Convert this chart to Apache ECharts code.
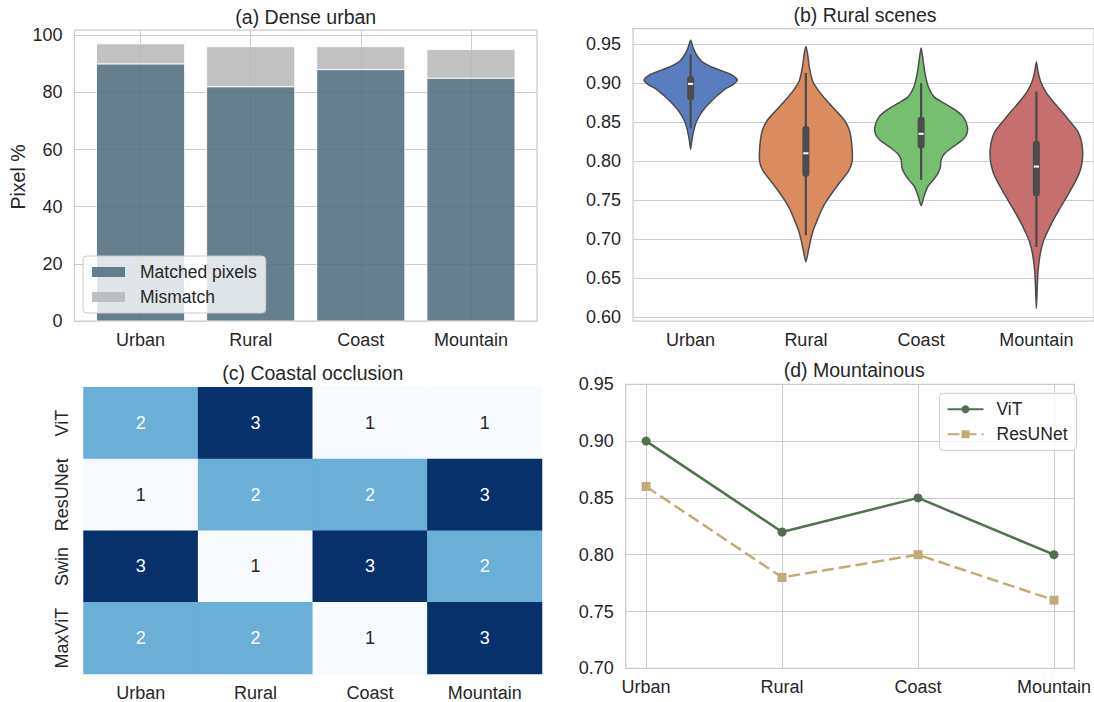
<!DOCTYPE html>
<html>
<head>
<meta charset="utf-8">
<script src="https://cdn.jsdelivr.net/npm/echarts@6/dist/echarts.min.js"></script>
<style>
  html, body { margin: 0; padding: 0; background: #ffffff; }
  #chart { width: 1094px; height: 702px; }
</style>
</head>
<body>
<div id="chart"></div>
<script>
// ---------- data ----------
const scenes = ['Urban', 'Rural', 'Coast', 'Mountain'];

// (a) pixel agreement, percent
const matchedPct = [90, 82, 88, 85];
const mismatchPct = [7, 14, 8, 10];
const pixelTicks = [0, 20, 40, 60, 80, 100];

// (b) violin outlines: [score, half-width in category units]
const violinUrban = [
  [0.955, 0], [0.945, 0.023], [0.936, 0.052], [0.928, 0.095], [0.924, 0.138],
  [0.919, 0.210], [0.915, 0.282], [0.911, 0.353], [0.904, 0.405], [0.898, 0.368],
  [0.892, 0.296], [0.885, 0.239], [0.877, 0.181], [0.868, 0.124], [0.859, 0.080],
  [0.851, 0.052], [0.842, 0.032], [0.834, 0.020], [0.825, 0.009], [0.815, 0]
];
const violinRural = [
  [0.947, 0], [0.938, 0.014], [0.921, 0.029], [0.903, 0.057], [0.891, 0.106],
  [0.878, 0.178], [0.865, 0.259], [0.852, 0.336], [0.839, 0.379], [0.827, 0.394],
  [0.814, 0.402], [0.800, 0.402], [0.788, 0.374], [0.775, 0.307], [0.762, 0.241],
  [0.750, 0.184], [0.737, 0.135], [0.724, 0.098], [0.711, 0.063], [0.698, 0.040],
  [0.686, 0.023], [0.671, 0]
];
const violinCoast = [
  [0.945, 0], [0.929, 0.017], [0.912, 0.034], [0.895, 0.063], [0.882, 0.115],
  [0.874, 0.201], [0.865, 0.302], [0.856, 0.368], [0.844, 0.402], [0.835, 0.397],
  [0.827, 0.359], [0.818, 0.273], [0.809, 0.201], [0.801, 0.172], [0.792, 0.167],
  [0.784, 0.144], [0.775, 0.101], [0.767, 0.057], [0.754, 0.023], [0.743, 0]
];
const violinMountain = [
  [0.927, 0], [0.915, 0.014], [0.902, 0.037], [0.889, 0.080], [0.876, 0.147],
  [0.863, 0.224], [0.850, 0.296], [0.838, 0.359], [0.825, 0.391], [0.812, 0.402],
  [0.799, 0.397], [0.786, 0.376], [0.774, 0.339], [0.761, 0.290], [0.748, 0.239],
  [0.735, 0.187], [0.722, 0.138], [0.709, 0.095], [0.697, 0.060], [0.680, 0.032],
  [0.658, 0.014], [0.637, 0.007], [0.611, 0]
];
// inner box summary per scene
const whiskerLow = [0.842, 0.705, 0.776, 0.690];
const quartile1 = [0.878, 0.780, 0.816, 0.755];
const medians = [0.899, 0.810, 0.835, 0.793];
const quartile3 = [0.909, 0.845, 0.857, 0.826];
const whiskerHigh = [0.937, 0.913, 0.900, 0.889];
const scoreTicks = [0.60, 0.65, 0.70, 0.75, 0.80, 0.85, 0.90, 0.95];

// (c) ranks per model and scene
const models = ['ViT', 'ResUNet', 'Swin', 'MaxViT'];
const rankViT = [2, 3, 1, 1];
const rankResUNet = [1, 2, 2, 3];
const rankSwin = [3, 1, 3, 2];
const rankMaxViT = [2, 2, 1, 3];

// (d) scores per scene
const vitScores = [0.90, 0.82, 0.85, 0.80];
const resunetScores = [0.86, 0.78, 0.80, 0.76];
const lineTicks = [0.70, 0.75, 0.80, 0.85, 0.90, 0.95];

// ---------- layout & style ----------
const FONT = '"Liberation Sans", Arial, Helvetica, sans-serif';
const TEXT = '#262626';
const GRIDLINE = '#cccccc';
const SPINE = '#cccccc';
const TICK_FS = 18;
const TITLE_FS = 19.5;

const A = { left: 74.5, top: 30, width: 462.5, height: 291 };
const B = { left: 633, top: 28.5, width: 464, height: 292.5 };
const C = { left: 83.5, top: 387.3, width: 458.5, height: 287 };
const D = { left: 625.7, top: 384.3, width: 457, height: 284 };

const catIdx = [0, 1, 2, 3];
const labelStyle = { color: TEXT, fontSize: TICK_FS, fontFamily: FONT };
const splitStyle = { color: GRIDLINE, width: 1 };

function frame(g) {
  return Object.assign({ show: true, borderColor: SPINE, borderWidth: 1.25,
    backgroundColor: 'transparent', containLabel: false }, g);
}

function catValueAxis(gridIndex, min, max, showGrid) {
  return {
    type: 'value', gridIndex, min, max,
    axisLine: { show: false },
    axisTick: { show: false, customValues: catIdx },
    axisLabel: Object.assign({ customValues: catIdx, margin: 10,
      formatter: v => scenes[Math.round(v)] }, labelStyle),
    splitLine: { show: showGrid, lineStyle: splitStyle }
  };
}

function numAxis(gridIndex, min, max, ticks, fmt) {
  return {
    type: 'value', gridIndex, min, max,
    axisLine: { show: false },
    axisTick: { show: false, customValues: ticks },
    axisLabel: Object.assign({ customValues: ticks, margin: 12, formatter: fmt }, labelStyle),
    splitLine: { show: true, lineStyle: splitStyle }
  };
}

// stacked segment [scene index, from, to]
const matchedSegs = matchedPct.map((v, i) => [i, 0, v]);
const mismatchSegs = mismatchPct.map((v, i) => [i, matchedPct[i], matchedPct[i] + v]);
const BAR_HALF = 0.4;

function segmentSeries(name, segs, color) {
  return {
    name, type: 'custom', xAxisIndex: 0, yAxisIndex: 0,
    data: segs, encode: { x: 0, y: [1, 2] },
    itemStyle: { color, opacity: 0.87 },
    renderItem(params, api) {
      const i = api.value(0);
      const p0 = api.coord([i - BAR_HALF, api.value(2)]);
      const p1 = api.coord([i + BAR_HALF, api.value(1)]);
      return { type: 'rect',
        shape: { x: p0[0], y: p0[1], width: p1[0] - p0[0], height: p1[1] - p0[1] },
        style: { fill: color, opacity: 0.87, stroke: '#ffffff', lineWidth: 1 } };
    }
  };
}

const violinProfiles = [violinUrban, violinRural, violinCoast, violinMountain];
const violinFill = ['#597dbf', '#da8b5f', '#76bf71', '#c76e6e'];
const ranks = [rankViT, rankResUNet, rankSwin, rankMaxViT];

const heatData = [];
ranks.forEach((row, r) => row.forEach((v, c) => {
  heatData.push({ value: [c, r, v], label: { color: v >= 2 ? '#ffffff' : TEXT } });
}));

function titleText(text, x, y) {
  return { type: 'text', x, y, silent: true,
    style: { text, fill: TEXT, font: TITLE_FS + 'px ' + FONT,
      textAlign: 'center', textVerticalAlign: 'middle', align: 'center', verticalAlign: 'middle' } };
}

const option = {
  backgroundColor: '#ffffff',
  animation: false,
  textStyle: { fontFamily: FONT, color: TEXT },
  grid: [frame(A), frame(B), Object.assign({}, C, { show: false }), frame(D)],
  xAxis: [
    catValueAxis(0, -0.6, 3.6, true),
    catValueAxis(1, -0.5, 3.5, false),
    { type: 'category', gridIndex: 2, data: scenes,
      axisLine: { show: false }, axisTick: { show: false },
      axisLabel: Object.assign({ margin: 10, interval: 0 }, labelStyle), splitLine: { show: false } },
    catValueAxis(3, -0.15, 3.15, true)
  ],
  yAxis: [
    numAxis(0, 0, 101.85, pixelTicks, v => String(v)),
    numAxis(1, 0.595, 0.97, scoreTicks, v => v.toFixed(2)),
    { type: 'category', gridIndex: 2, data: models, inverse: true,
      axisLine: { show: false }, axisTick: { show: false },
      axisLabel: Object.assign({ rotate: 90, margin: 13, interval: 0 }, labelStyle),
      splitLine: { show: false } },
    numAxis(3, 0.70, 0.95, lineTicks, v => v.toFixed(2))
  ],
  legend: [
    {
      data: ['Matched pixels', 'Mismatch'], orient: 'vertical',
      left: 83, top: 256, padding: [7, 9, 7, 9], itemGap: 7,
      itemWidth: 33, itemHeight: 10, icon: 'rect',
      backgroundColor: 'rgba(255,255,255,0.8)', borderColor: '#cccccc', borderWidth: 1, borderRadius: 4,
      textStyle: { color: TEXT, fontSize: 17.5, fontFamily: FONT, padding: [0, 0, 0, 10] },
      selectedMode: false
    },
    {
      data: ['ViT', 'ResUNet'], orient: 'vertical',
      left: 939.5, top: 393.3, padding: [7, 9, 7, 7], itemGap: 7,
      itemWidth: 36, itemHeight: 10,
      backgroundColor: 'rgba(255,255,255,0.8)', borderColor: '#cccccc', borderWidth: 1, borderRadius: 4,
      textStyle: { color: TEXT, fontSize: 17.5, fontFamily: FONT, padding: [0, 0, 0, 8] },
      selectedMode: false
    }
  ],
  visualMap: {
    type: 'continuous', show: false, min: 1, max: 3, seriesIndex: 3,
    inRange: { color: ['#f7fbff', '#6baed6', '#08306b'] }
  },
  series: [
    segmentSeries('Matched pixels', matchedSegs, '#4f6c7e'),
    segmentSeries('Mismatch', mismatchSegs, '#b8b8b8'),
    {
      type: 'custom', xAxisIndex: 1, yAxisIndex: 1,
      data: catIdx.map(i => [i, medians[i]]),
      renderItem(params, api) {
        const i = params.dataIndex;
        const prof = violinProfiles[i];
        const right = prof.map(([v, w]) => api.coord([i + w, v]));
        const left = prof.slice(1, -1).reverse().map(([v, w]) => api.coord([i - w, v]));
        const cx = api.coord([i, medians[i]])[0];
        const y = v => api.coord([i, v])[1];
        const yQ3 = y(quartile3[i]), yQ1 = y(quartile1[i]), yMed = y(medians[i]);
        return {
          type: 'group',
          children: [
            { type: 'polygon', shape: { points: right.concat(left), smooth: 0.25 },
              style: { fill: violinFill[i], stroke: '#4d4d4d', lineWidth: 1.5 } },
            { type: 'line', shape: { x1: cx, y1: y(whiskerHigh[i]), x2: cx, y2: y(whiskerLow[i]) },
              style: { stroke: '#4c4c4c', lineWidth: 2.3 } },
            { type: 'rect', shape: { x: cx - 3.5, y: yQ3, width: 7, height: yQ1 - yQ3, r: 3 },
              style: { fill: '#4c4c4c' } },
            { type: 'rect', shape: { x: cx - 2.6, y: yMed - 1, width: 5.2, height: 2 },
              style: { fill: '#ffffff' } }
          ]
        };
      }
    },
    {
      type: 'heatmap', xAxisIndex: 2, yAxisIndex: 2, data: heatData,
      label: { show: true, fontSize: 18, fontFamily: FONT, formatter: p => String(p.value[2]) },
      itemStyle: { borderWidth: 0 }
    },
    {
      name: 'ViT', type: 'line', xAxisIndex: 3, yAxisIndex: 3,
      data: vitScores.map((v, i) => [i, v]),
      symbol: 'circle', symbolSize: 9,
      lineStyle: { color: '#52704f', width: 2.5 },
      itemStyle: { color: '#52704f' }
    },
    {
      name: 'ResUNet', type: 'line', xAxisIndex: 3, yAxisIndex: 3,
      data: resunetScores.map((v, i) => [i, v]),
      symbol: 'rect', symbolSize: 9,
      lineStyle: { color: '#c4aa78', width: 2.5, type: [12, 5] },
      itemStyle: { color: '#c4aa78' }
    }
  ],
  graphic: [
    titleText('(a) Dense urban', A.left + A.width / 2, 17),
    titleText('(b) Rural scenes', B.left + B.width / 2, 15),
    titleText('(c) Coastal occlusion', C.left + C.width / 2, 373),
    titleText('(d) Mountainous', D.left + D.width / 2, 370),
    { type: 'text', x: 17.5, y: 177, rotation: Math.PI / 2, silent: true,
      style: { text: 'Pixel %', fill: TEXT, font: TITLE_FS + 'px ' + FONT,
        textAlign: 'center', textVerticalAlign: 'middle', align: 'center', verticalAlign: 'middle' } }
  ]
};

const chart = echarts.init(document.getElementById('chart'), null, { renderer: 'svg', width: 1094, height: 702 });
chart.setOption(option);
</script>
</body>
</html>
